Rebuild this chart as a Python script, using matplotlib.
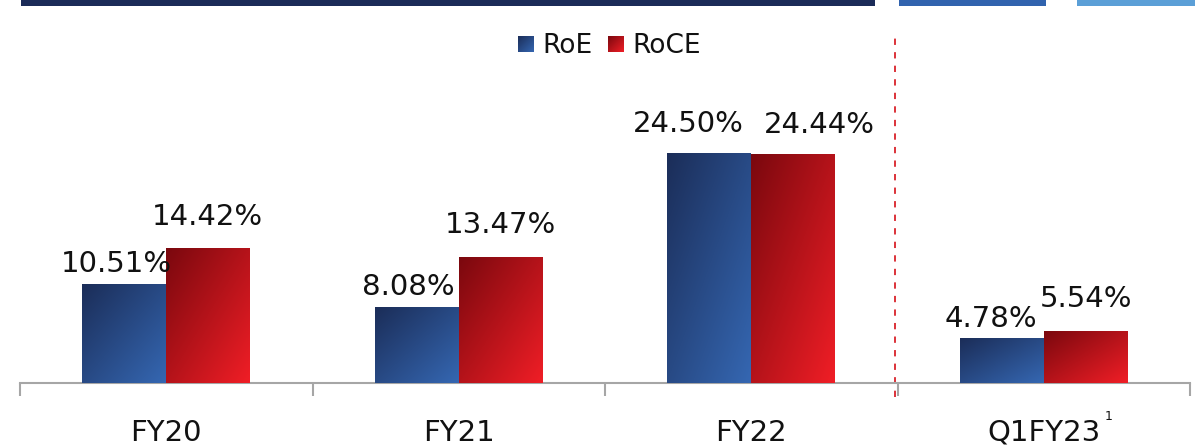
import numpy as np
import matplotlib
matplotlib.use('Agg')
import matplotlib.pyplot as plt
from matplotlib.colors import to_rgb
from matplotlib.patches import Rectangle

plt.rcParams['font.family'] = ['DejaVu Sans']

# Data
periods = ['FY20', 'FY21', 'FY22', 'Q1FY23']
roe = [10.51, 8.08, 24.50, 4.78]
roce = [14.42, 13.47, 24.44, 5.54]

# label offsets in pixels (dx, dy) relative to bar top centre
roe_offsets = [(-8, 12), (-8, 12), (-21, 21), (-11, 11)]
roce_offsets = [(-1, 23), (0, 24), (26, 21), (0, 24)]

W, H = 1196, 448
fig = plt.figure(figsize=(W / 100, H / 100), dpi=100)

px_per_unit = 9.39
ytop = 37
ax = fig.add_axes([20 / W, 65 / H, 1170 / W, ytop * px_per_unit / H])
ax.set_xlim(-0.5, 3.5)
ax.set_ylim(0, ytop)

x = np.arange(len(periods))
bw = 0.287


def grad(c0, c1, n=100):
    u = np.linspace(0, 1, n)
    g = (u[None, :] + u[:, None]) / 2
    a, b = np.array(to_rgb(c0)), np.array(to_rgb(c1))
    return a + (b - a) * g[..., None]


roe_grad = grad('#1b2d58', '#3567b2')
roce_grad = grad('#7a080e', '#f01e26')

bars1 = ax.bar(x - bw / 2, roe, bw, color='#2a4f8e', zorder=2)
bars2 = ax.bar(x + bw / 2, roce, bw, color='#c01820', zorder=2)

for bars, img in [(bars1, roe_grad), (bars2, roce_grad)]:
    for p in bars:
        x0, y0 = p.get_x(), p.get_y()
        im = ax.imshow(img, extent=(x0, x0 + p.get_width(), y0, y0 + p.get_height()),
                       aspect='auto', origin='upper', zorder=3)
        im.set_clip_path(p)

for bars, vals, offs in [(bars1, roe, roe_offsets), (bars2, roce, roce_offsets)]:
    for p, v, (dx, dy) in zip(bars, vals, offs):
        ax.annotate(f'{v:.2f}%', (p.get_x() + p.get_width() / 2, v),
                    xytext=(dx, dy), textcoords='offset pixels',
                    ha='center', va='baseline', fontsize=21, color='#111111')

# axis styling
for s in ['top', 'right', 'left']:
    ax.spines[s].set_visible(False)
ax.spines['bottom'].set_color('#a6a6a6')
ax.spines['bottom'].set_linewidth(1.5)
ax.set_yticks([])
ax.set_xticks(np.arange(-0.5, 4, 1))
ax.set_xticklabels([])
ax.tick_params(axis='x', length=9, width=1.5, color='#a6a6a6')

for i, lab in enumerate(periods):
    ax.text(i, -63.5 / px_per_unit, lab, ha='center', va='bottom',
            fontsize=21, color='#111111', clip_on=False)
ax.text(3.222, -37 / px_per_unit, '1', ha='center', va='baseline',
        fontsize=9, color='#111111', clip_on=False)

# separator
ax.plot([2.493, 2.493], [-14 / px_per_unit, 36.7], color='#d9222a', lw=1.3,
        ls=(0, (3.5, 4)), clip_on=False, zorder=1)

# top decorative stripes
for x0, x1, c in [(21, 875, '#1b2b58'), (899, 1046, '#3163ae'), (1077, 1195, '#5b9fd7')]:
    fig.add_artist(Rectangle((x0 / W, 1 - 6 / H), (x1 - x0) / W, 6 / H,
                             transform=fig.transFigure, color=c, lw=0))

# legend
for sx, img, txt, tx in [(518, roe_grad, 'RoE', 542), (608, roce_grad, 'RoCE', 632)]:
    lax = fig.add_axes([sx / W, 1 - 52 / H, 16 / W, 16 / H])
    lax.imshow(img, aspect='auto')
    lax.axis('off')
    fig.text(tx / W, 1 - 53 / H, txt, fontsize=19, va='baseline', color='#111111')

fig.savefig('out.png', dpi=100)
